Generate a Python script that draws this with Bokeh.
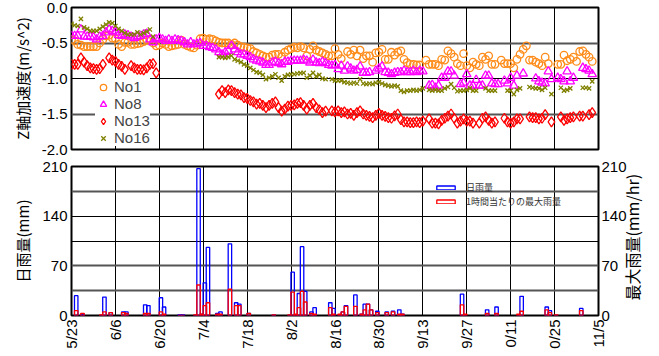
import math
from bokeh.plotting import figure
from bokeh.models import (ColumnDataSource, FixedTicker, Range1d, LinearAxis, Legend,
                          LegendItem, Grid, NumeralTickFormatter)
from bokeh.layouts import column
from bokeh.embed import file_html
from bokeh.resources import INLINE
from bokeh.transform import dodge

# ---------------- data ----------------
# x = days since 5/23
tick_days = [0, 14, 28, 42, 56, 70, 84, 98, 112, 126, 140, 154, 168]
tick_labels = ["5/23", "6/6", "6/20", "7/4", "7/18", "8/2", "8/16", "8/30",
               "9/13", "9/27", "0/11", "0/25", "11/5"]

no1_days = list(range(0, 83)) + [83, 84, 85, 86, 88, 89, 90, 91, 92, 93, 94, 95, 96, 97, 98, 99, 100,
            101, 102, 103, 104, 105, 106, 107, 108, 109, 110, 111, 113, 114, 115, 116, 117, 118, 119,
            120, 121, 122, 123, 124, 125, 126, 127, 128, 129, 130, 131, 132, 133, 134, 135, 137, 138,
            139, 140, 141, 142, 143, 144, 145, 146, 147, 148, 149, 150, 151, 152, 155, 156, 157, 158,
            159, 160, 161, 162, 163, 164, 165, 166]
no1_vals = [-0.45, -0.47, -0.52, -0.53, -0.55, -0.55, -0.55, -0.55, -0.55, -0.50,
            -0.45, -0.40, -0.39, -0.43, -0.44, -0.52, -0.55, -0.49, -0.49, -0.52,
            -0.52, -0.51, -0.50, -0.48, -0.46, -0.45, -0.50, -0.54, -0.53, -0.50,
            -0.52, -0.55, -0.54, -0.53, -0.52, -0.46, -0.52, -0.54, -0.56, -0.57, -0.53,
            -0.44, -0.43, -0.45, -0.44, -0.45, -0.47, -0.49, -0.50, -0.50, -0.50,
            -0.52, -0.50, -0.53, -0.55, -0.56, -0.57, -0.58, -0.62, -0.64, -0.66,
            -0.68, -0.70, -0.70, -0.67, -0.66, -0.66, -0.69, -0.63, -0.60, -0.58,
            -0.56, -0.57, -0.55, -0.57, -0.68, -0.59, -0.54, -0.60, -0.62, -0.64, -0.66, -0.68,
            -0.68, -0.58, -0.66, -0.72, -0.62, -0.66, -0.60, -0.68, -0.60, -0.72, -0.68, -0.68,
            -0.77, -0.64, -0.63, -0.59, -0.73, -0.73, -0.63, -0.67, -0.63, -0.61, -0.73, -0.775,
            -0.80, -0.80, -0.81, -0.81,
            -0.74, -0.80, -0.80, -0.80, -0.82, -0.73, -0.74, -0.61, -0.65, -0.70, -0.79, -0.82,
            -0.65, -0.82, -0.85, -0.77, -0.80, -0.82, -0.70, -0.73, -0.68, -0.80, -0.80, -0.74,
            -0.79, -0.79, -0.79, -0.85, -0.73, -0.66, -0.59, -0.54, -0.74, -0.74, -0.77, -0.79,
            -0.82, -0.70, -0.79, -0.80, -0.80, -0.67, -0.75, -0.73, -0.70, -0.76, -0.62, -0.61,
            -0.66, -0.70, -0.76]

no8_days = list(range(0, 83)) + [83, 84, 85, 86, 87, 88, 89, 90, 91, 92, 93, 94, 95,
            97, 98, 99, 100, 101, 102, 103, 104, 105, 106, 107, 108, 109, 110, 111, 112,
            114, 115, 116, 117, 118, 119, 120, 121, 122,
            124, 125, 126, 127, 128, 129, 130, 131, 132, 133, 134, 135, 136,
            138, 139, 140, 141, 142, 144, 148, 149, 150, 151, 152, 153,
            155, 156, 157, 158, 159, 160, 163, 164, 165, 166]
no8_vals = [-0.40, -0.40, -0.40, -0.31, -0.41, -0.41, -0.41, -0.42, -0.45, -0.41,
            -0.40, -0.35, -0.31, -0.33, -0.35, -0.39, -0.40, -0.38, -0.39, -0.41,
            -0.43, -0.41, -0.40, -0.38, -0.37, -0.45, -0.49, -0.45, -0.43, -0.45,
            -0.47, -0.45, -0.47, -0.45, -0.46, -0.47, -0.49, -0.52, -0.49, -0.52, -0.51,
            -0.50, -0.54, -0.54, -0.56, -0.57, -0.59, -0.63, -0.66, -0.63, -0.61,
            -0.54, -0.59, -0.63, -0.66, -0.66, -0.68, -0.70, -0.73, -0.75, -0.76,
            -0.775, -0.81, -0.81, -0.775, -0.765, -0.785, -0.80, -0.765, -0.765, -0.75,
            -0.75, -0.75, -0.75, -0.735, -0.75, -0.775, -0.735, -0.775, -0.785, -0.765,
            -0.785, -0.81,
            -0.82, -0.81, -0.87, -0.82, -0.89, -0.83, -0.86, -0.89, -0.88, -0.83, -0.92, -0.92, -0.91,
            -0.89, -0.86, -0.83, -0.91, -0.92, -0.94, -0.92, -0.91, -0.91, -0.89, -0.91, -0.91,
            -0.89, -0.91, -0.89, -0.90,
            -1.10, -1.09, -1.13, -1.10, -0.99, -0.99, -0.90, -0.90, -0.96,
            -1.08, -1.06, -0.94, -1.10, -1.10, -1.02, -1.10, -1.10, -0.96, -0.96, -1.07, -1.08, -1.08,
            -1.03, -1.07, -0.99, -1.10, -0.96, -0.93, -1.00, -1.04, -1.06, -1.07, -0.90, -1.01,
            -0.99, -1.01, -1.04, -0.90, -1.04, -0.99, -0.85, -0.87, -0.89, -0.94]

no13_days = (list(range(0, 11)) + list(range(12, 18)) + list(range(19, 28)) +
             list(range(47, 82)) + list(range(83, 111)) +
             [111, 112, 114, 115, 116, 117, 118, 119, 120, 121, 122, 123, 124, 125, 126, 127, 128,
              130, 131, 132, 133, 134, 135, 138, 139, 140, 141, 142, 143,
              146, 147, 148, 149, 150, 151, 153, 156, 157, 158, 159, 160, 162, 163, 165, 166])
no13_vals = [-0.80, -0.80, -0.80, -0.71, -0.77, -0.82, -0.85, -0.86, -0.87, -0.86, -0.80,
             -0.71, -0.74, -0.76, -0.80, -0.83, -0.87,
             -0.82, -0.85, -0.87, -0.87, -0.88, -0.85, -0.80, -0.79, -0.92,
             -1.22, -1.17, -1.20, -1.16, -1.17, -1.20, -1.22, -1.23, -1.27, -1.28,
             -1.31, -1.33, -1.36, -1.35, -1.38, -1.41, -1.38, -1.35, -1.33, -1.41,
             -1.46, -1.43, -1.39, -1.38, -1.37, -1.35, -1.34, -1.38, -1.43, -1.38,
             -1.35, -1.41, -1.44, -1.48, -1.46,
             -1.455, -1.47, -1.455, -1.48, -1.47, -1.50, -1.49, -1.52, -1.48, -1.455,
             -1.50, -1.52, -1.535, -1.55, -1.52, -1.49, -1.52, -1.535, -1.55, -1.56,
             -1.526, -1.50, -1.58, -1.61, -1.61, -1.62, -1.62, -1.61,
             -1.62, -1.60, -1.57, -1.63, -1.63, -1.64, -1.59, -1.56, -1.53, -1.50, -1.56,
             -1.63, -1.60, -1.57, -1.60, -1.60, -1.63,
             -1.63, -1.56, -1.54, -1.59, -1.63, -1.61, -1.56, -1.61, -1.63, -1.61, -1.57, -1.57,
             -1.54, -1.55, -1.55, -1.57, -1.56, -1.51, -1.61, -1.54, -1.59, -1.57, -1.55, -1.54,
             -1.53, -1.53, -1.51, -1.48]

no16_days = (list(range(0, 27)) + list(range(47, 82)) + list(range(83, 111)) +
             [111, 112, 114, 115, 116, 117, 118, 119, 120, 121, 122, 123, 124, 125, 126, 127, 128, 129,
              132, 133, 134, 135, 139, 140, 141, 142, 143, 146, 147, 148, 149, 150, 151, 153,
              156, 157, 158, 159, 163, 164, 165, 166])
no16_vals = [-0.23, -0.25, -0.26, -0.16, -0.28, -0.30, -0.33, -0.33, -0.33, -0.30,
             -0.27, -0.24, -0.21, -0.22, -0.26, -0.30, -0.33, -0.36, -0.38, -0.38,
             -0.38, -0.35, -0.38, -0.36, -0.34, -0.31, -0.41,
             -0.70, -0.70, -0.71, -0.70, -0.68, -0.73, -0.75, -0.77, -0.80, -0.82,
             -0.85, -0.88, -0.91, -0.92, -0.95, -1.01, -0.99, -0.97, -0.94, -0.99,
             -1.03, -0.97, -0.95, -0.94, -0.94, -0.93, -0.925, -0.92, -0.99, -0.96,
             -0.92, -0.97, -0.95, -1.00, -1.01,
             -1.01, -1.03, -1.03, -1.03, -1.05, -1.06, -1.07, -1.06, -1.07, -1.01,
             -1.07, -1.08, -1.07, -1.08, -1.06, -1.05, -1.07, -1.09, -1.10, -1.11,
             -1.10, -1.11, -1.17, -1.19, -1.17, -1.17, -1.16, -1.17,
             -1.16, -1.14, -1.16, -1.17, -1.16, -1.17, -1.17, -1.14, -1.12, -1.08, -1.13, -1.18,
             -1.17, -1.17, -1.16, -1.14, -1.17, -1.17,
             -1.14, -1.17, -1.17, -1.17, -1.17, -1.17, -1.22, -1.16, -1.14,
             -1.12, -1.13, -1.14, -1.14, -1.16, -1.13, -1.22, -1.13, -1.17, -1.16, -1.14,
             -1.13, -1.13, -1.14, -1.04]

rain_days = [1, 3, 9, 10, 12, 16, 17, 23, 24, 28, 29, 34, 35, 39, 40, 41, 42, 43, 46, 47, 50, 52, 53,
             56, 64, 69, 70, 71, 72, 73, 74, 76, 77, 82, 83, 85, 86, 87, 90, 92, 93, 94, 95, 97,
             100, 102, 104, 105, 124, 125, 132, 135, 142, 143, 151, 152, 154, 162]
daily_rain = [28, 2, 0, 26, 4, 5, 5, 15, 14, 25, 12, 1, 1, 0, 207, 2, 46, 96, 3, 5, 101, 18, 16,
              3, 0.5, 0, 61, 0, 31, 97, 34, 5, 11, 18, 10, 1, 5, 14, 29, 2, 16, 16, 8, 6,
              5, 6, 8, 2, 30, 0, 8, 12, 0, 27, 12, 7, 0, 10]
max_hourly = [7, 3, 1, 5, 4, 4, 3, 3, 3, 5, 2, 0, 0, 1, 43, 2, 14, 18, 2, 2, 37, 14, 14,
              3, 1, 1, 33, 2, 11, 34, 19, 3, 2, 11, 2, 2, 5, 13, 13, 2, 8, 16, 8, 4,
              4, 5, 2, 2, 15, 2, 3, 3, 2, 6, 8, 4, 1, 7]

series_names = ["No1", "No8", "No13", "No16"]
rain_names = ["日雨量", "1時間当たりの最大雨量"]
right_title = "最大雨量(mm/hr)"

# ---------------- style ----------------
TICK_FONT = "Liberation Sans"
JP_FONT = "Noto Sans CJK JP"
LEFT = 71
RIGHT = 50
FW = 527


def style_common(p):
    p.outline_line_color = "black"
    p.outline_line_width = 2
    p.outline_line_alpha = 1
    p.background_fill_color = "white"
    p.border_fill_color = "white"
    p.xgrid.ticker = FixedTicker(ticks=tick_days[1:-1])
    p.xgrid.grid_line_color = "black"
    p.xgrid.grid_line_width = 1
    for ax in p.yaxis:
        ax.axis_line_color = None
        ax.major_tick_line_color = None
        ax.minor_tick_line_color = None
        ax.major_tick_out = 0
        ax.major_tick_in = 0
        ax.major_label_standoff = 4
        ax.major_label_text_font = TICK_FONT
        ax.major_label_text_font_size = "15px"
        ax.major_label_text_color = "black"
        ax.axis_label_text_font = JP_FONT
        ax.axis_label_text_font_style = "normal"
        ax.axis_label_text_font_size = "15px"
        ax.axis_label_text_color = "black"
        ax.axis_label_standoff = 6


# ---------------- top: acceleration ----------------
top = figure(frame_width=FW, frame_height=142, x_range=Range1d(0, 168), y_range=Range1d(-2, 0),
             output_backend="svg", toolbar_location=None,
             min_border_left=LEFT, min_border_right=RIGHT, min_border_top=7, min_border_bottom=9)
top.xaxis.visible = False
top.yaxis.ticker = FixedTicker(ticks=[0, -0.5, -1.0, -1.5, -2.0])
top.yaxis.formatter = NumeralTickFormatter(format="0.0")
top.yaxis.axis_label = "Z軸加速度(m/s^2)"
style_common(top)
top.ygrid.ticker = FixedTicker(ticks=[-0.5, -1.5])
top.ygrid.grid_line_color = "#555555"
top.ygrid.grid_line_width = 2
top.add_layout(Grid(dimension=1, ticker=FixedTicker(ticks=[-1.0]),
                    grid_line_color="black", grid_line_width=1.2))

r1 = top.scatter(x="day", y="val", source=ColumnDataSource(dict(day=no1_days, val=no1_vals)),
                 marker="circle", size=7.5, fill_color=None, line_color="#FF8C1A", line_width=1.3)
r8 = top.scatter(x="day", y="val", source=ColumnDataSource(dict(day=no8_days, val=no8_vals)),
                 marker="triangle", size=8.5, fill_color=None, line_color="#FF00FF", line_width=1.3)
r13 = top.scatter(x="day", y="val", source=ColumnDataSource(dict(day=no13_days, val=no13_vals)),
                  marker="diamond", size=10, fill_color=None, line_color="#FF0000", line_width=1.3)
r16 = top.scatter(x="day", y="val", source=ColumnDataSource(dict(day=no16_days, val=no16_vals)),
                  marker="x", size=6, line_color="#808000", line_width=1.3)

leg_top = Legend(items=[LegendItem(label=n, renderers=[r])
                        for n, r in zip(series_names, [r1, r8, r13, r16])],
                 location=(24, 3), glyph_width=16, glyph_height=16, spacing=0,
                 label_height=14, label_standoff=3, padding=0, margin=0,
                 label_text_font=TICK_FONT, label_text_font_size="15px",
                 background_fill_color="white", background_fill_alpha=1,
                 border_line_alpha=0)
top.add_layout(leg_top)

# ---------------- bottom: rainfall ----------------
bot = figure(frame_width=FW, frame_height=149, x_range=Range1d(0, 168), y_range=Range1d(0, 210),
             output_backend="svg", toolbar_location=None,
             min_border_left=LEFT, min_border_right=RIGHT, min_border_top=8, min_border_bottom=4)
bot.extra_y_ranges = {"hr": Range1d(0, 210)}
rax = LinearAxis(y_range_name="hr", ticker=FixedTicker(ticks=[0, 70, 140, 210]))
bot.add_layout(rax, "right")
bot.yaxis.ticker = FixedTicker(ticks=[0, 70, 140, 210])
bot.yaxis[0].axis_label = "日雨量(mm)"
style_common(bot)
rax.major_label_standoff = 3

# right-hand title: a label-only axis whose text reads bottom-to-top like the reference
tax = LinearAxis(y_range_name="hr", ticker=FixedTicker(ticks=[21]),
                 major_label_overrides={21: right_title})
bot.add_layout(tax, "right")
tax.axis_line_color = None
tax.major_tick_line_color = None
tax.minor_tick_line_color = None
tax.major_tick_out = 0
tax.major_tick_in = 0
tax.major_label_standoff = 3
tax.major_label_orientation = math.pi / 2
tax.major_label_text_font = JP_FONT
tax.major_label_text_font_size = "16px"
tax.major_label_text_color = "black"

bot.ygrid.ticker = FixedTicker(ticks=[35, 70, 175])
bot.ygrid.grid_line_color = "#555555"
bot.ygrid.grid_line_width = 2
bot.add_layout(Grid(dimension=1, ticker=FixedTicker(ticks=[105, 140]),
                    grid_line_color="black", grid_line_width=1.2))

xa = bot.xaxis[0]
xa.ticker = FixedTicker(ticks=tick_days)
xa.major_label_overrides = {d: lab for d, lab in zip(tick_days, tick_labels)}
xa.major_label_orientation = math.pi / 2
xa.axis_line_color = None
xa.major_tick_line_color = None
xa.minor_tick_line_color = None
xa.major_tick_out = 0
xa.major_tick_in = 0
xa.major_label_standoff = 4
xa.major_label_text_font = TICK_FONT
xa.major_label_text_font_size = "15px"
xa.major_label_text_color = "black"

rain_src = ColumnDataSource(dict(day=rain_days, daily=daily_rain, hourly=max_hourly))
rb = bot.vbar(x=dodge("day", 0.5), top="daily", width=1.1, bottom=0, source=rain_src,
              fill_alpha=0, line_color="#0000FF", line_width=1.3)
rr = bot.vbar(x=dodge("day", 0.5), top="hourly", width=1.1, bottom=0, source=rain_src,
              fill_alpha=0, line_color="#FF0000", line_width=1.3, y_range_name="hr")

for name, rend, ly in zip(rain_names, [rb, rr], [121, 107]):
    bot.add_layout(Legend(items=[LegendItem(label=name, renderers=[rend])],
                          location=(363, ly), glyph_width=23, glyph_height=5, spacing=0,
                          label_height=5, label_standoff=9, padding=0, margin=0,
                          label_text_font=JP_FONT, label_text_font_size="9px",
                          label_text_color="#333333",
                          background_fill_alpha=0, border_line_alpha=0))

page = column(top, bot, spacing=0)
open("out.html", "w").write(file_html(page, INLINE))
